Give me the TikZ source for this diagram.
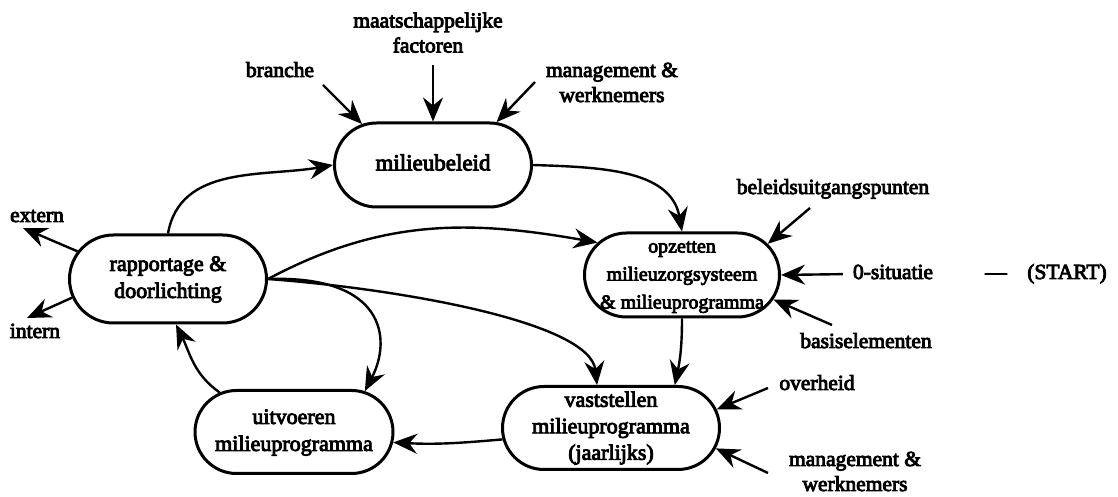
\documentclass[tikz,border=0pt]{standalone}
\usepackage{fontspec}
\setmainfont{Liberation Serif}[FakeBold=4]
\usetikzlibrary{shapes.misc,arrows.meta}
\newcommand{\tx}[1]{\begin{tabular}{@{}c@{}}#1\end{tabular}}
\newcommand{\zw}[1]{\makebox[0pt]{\tx{#1}}}
\begin{document}
\begin{tikzpicture}[x=1pt,y=1pt,
  box/.style={rounded rectangle, draw=black, line width=3pt, inner sep=0pt, font=\fontsize{22}{27}\selectfont},
  lbl/.style={inner sep=1pt, font=\fontsize{21.5}{25}\selectfont},
  arr/.style={draw=black, line width=2.4pt, -{Stealth[length=24pt,width=20pt,inset=8pt]}},
]
\useasboundingbox (0,0) rectangle (1118,497);
% boxes
\node[box, minimum width=197pt, minimum height=84pt, font=\fontsize{23}{27}\selectfont] (beleid) at (433,332) {\zw{milieubeleid}};
\node[box, minimum width=197pt, minimum height=88pt] (rapp) at (168,218) {\makebox[0pt]{\raisebox{4pt}{\tx{rapportage \&\\doorlichting}}}};
\node[box, minimum width=195pt, minimum height=82pt, font=\fontsize{20}{28}\selectfont] (opz) at (682,222) {\zw{opzetten\\milieuzorgsysteem\\\& milieuprogramma}};
\node[box, minimum width=198pt, minimum height=83pt] (uitv) at (294,65) {\zw{uitvoeren\\milieuprogramma}};
\node[box, minimum width=217pt, minimum height=83pt, font=\fontsize{22}{26.5}\selectfont] (vast) at (611,69) {\zw{vaststellen\\milieuprogramma\\(jaarlijks)}};
% labels
\node[lbl] (branche) at (280,425) {\tx{branche}};
\node[lbl] (maats) at (428,462) {\tx{maatschappelijke\\factoren}};
\node[lbl] (mgmt) at (612,412.5) {\tx{management \&\\werknemers}};
\node[lbl] (beleids) at (833,308) {\tx{beleidsuitgangspunten}};
\node[lbl] (nul) at (893,223) {\tx{0-situatie}};
\node[lbl] (dash) at (996,223) {\tx{—}};
\node[lbl] (start) at (1067,223) {\tx{(START)}};
\node[lbl] (basis) at (866,154) {\tx{basiselementen}};
\node[lbl] (overheid) at (817,112) {\tx{overheid}};
\node[lbl] (mgmtb) at (855,23.5) {\tx{management \&\\werknemers}};
\node[lbl] (extern) at (37,280) {\tx{extern}};
\node[lbl] (intern) at (35,164) {\tx{intern}};
% free ends
\coordinate (cBr) at (323,412);
\coordinate (cMa) at (433,432);
\coordinate (cMg) at (535,415);
\coordinate (cEx) at (23,269);
\coordinate (cIn) at (27,179);
\coordinate (cBe) at (810,289);
\coordinate (cBa) at (832,172);
\coordinate (cOv) at (768,109);
\coordinate (cM2) at (768,24);
% connectors
\draw[arr] (cBr) -- (beleid.150);
\draw[arr] (cMa) -- (beleid.north);
\draw[arr] (cMg) -- (beleid.34);
\draw[arr] (rapp.north) to[out=80,in=190] (beleid.west);
\draw[arr] (beleid.east) to[out=-2,in=100] (opz.north);
\draw[arr] (rapp.east) to[out=28,in=170] (opz.159);
\draw[arr] (rapp.east) .. controls (385,222) and (392,158) .. (uitv.30);
\draw[arr] (rapp.east) .. controls (400,208) and (590,175) .. (vast.108);
\draw[arr] (opz.south) to[out=-90,in=78] (vast.34);
\draw[arr] (vast.186) to[out=185,in=-3] (uitv.-6);
\draw[arr] (uitv.152) to[out=145,in=-64] (rapp.-80);
\draw[arr] (rapp.163) -- (cEx);
\draw[arr] (rapp.191) -- (cIn);
\draw[arr] (cBe) -- (opz.20);
\draw[arr, shorten <=9pt] (nul.west) -- (opz.east);
\draw[arr] (cBa) -- (opz.-15);
\draw[arr] (cOv) -- (vast.10);
\draw[arr] (cM2) -- (vast.-11);
\end{tikzpicture}
\end{document}
